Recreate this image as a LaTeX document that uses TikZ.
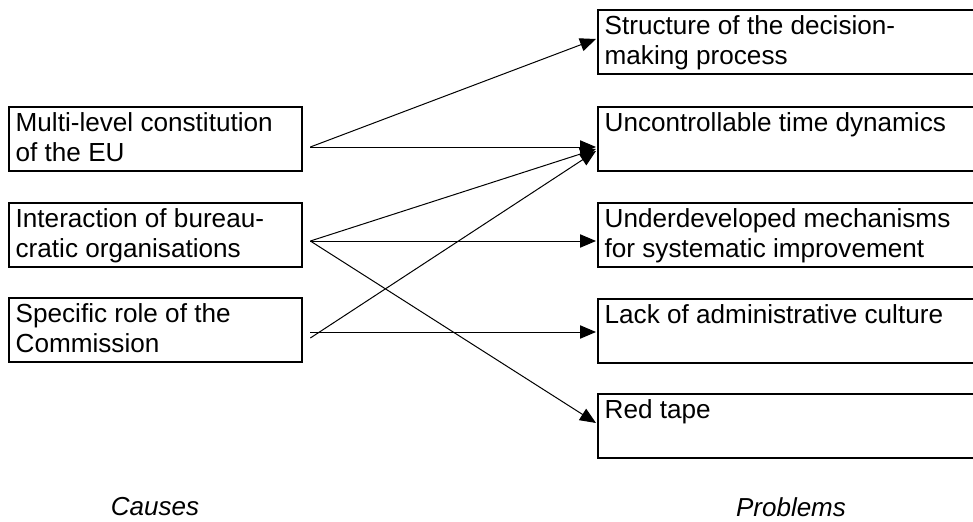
\documentclass[tikz,border=0pt]{standalone}
\usepackage{fontspec}
\setmainfont{Liberation Sans}
\usetikzlibrary{arrows.meta,calc}

\newcommand{\boxtext}[2]{\parbox[t][39pt][t]{#1}{\raggedright #2}}

\tikzset{every picture/.style={line width=0.75pt}}
\tikzset{
  cause/.style={draw, line width=1.5pt, anchor=north west, inner xsep=5pt, inner ysep=4.5pt, font=\fontsize{19.6}{22.5}\selectfont},
  problem/.style={cause},
  caption/.style={font=\fontsize{19.5}{22.5}\selectfont\itshape},
  link/.style={-{Triangle[length=12pt,width=10pt]}},
}

\begin{document}
\begin{tikzpicture}[x=0.75pt,y=0.75pt,yscale=-1,xscale=1]
			\useasboundingbox (0,0) rectangle (973,521);
			%Shape: Rectangle [id:causes]
			\node[cause] (multi) at (8,106) {\boxtext{210pt}{Multi-level constitution\\of the EU}};
			\node[cause] (inter) at (8,202) {\boxtext{210pt}{Interaction of bureau-\\cratic organisations}};
			\node[cause] (comm) at (8,297) {\boxtext{210pt}{Specific role of the\\Commission}};
			%Shape: Rectangle [id:problems]
			\node[problem] (struct) at (597,9) {\boxtext{285pt}{Structure of the decision-\\making process}};
			\node[problem] (unc) at (597,106) {\boxtext{285pt}{Uncontrollable time dynamics}};
			\node[problem] (under) at (597,202) {\boxtext{285pt}{Underdeveloped mechanisms\\for systematic improvement}};
			\node[problem] (lack) at (597,298) {\boxtext{285pt}{Lack of administrative culture}};
			\node[problem] (red) at (597,393) {\boxtext{285pt}{Red tape}};

			%Straight Lines [id:multi]
			\draw[link] ($(multi.east)+(7,8)$) -- ($(struct.west)+(-1,-3)$);
			\draw[link] ($(multi.east)+(7,8)$) -- ($(unc.west)+(-1,8)$);
			%Straight Lines [id:inter]
			\draw[link] ($(inter.east)+(7,6)$) -- ($(unc.west)+(-1,10)$);
			\draw[link] ($(inter.east)+(7,6)$) -- ($(under.west)+(-1,6)$);
			\draw[link] ($(inter.east)+(7,6)$) -- ($(red.west)+(-1,-3)$);
			%Straight Lines [id:comm]
			\draw[link] ($(comm.east)+(7,8)$) -- ($(unc.west)+(-1,12)$);
			\draw[link] ($(comm.east)+(7,2)$) -- ($(lack.west)+(-1,1)$);

			% Text Node
			\node[caption] (causes) at (155,507) {Causes};
			% Text Node
			\node[caption] (problems) at (791,507) {Problems};
		\end{tikzpicture}
\end{document}
